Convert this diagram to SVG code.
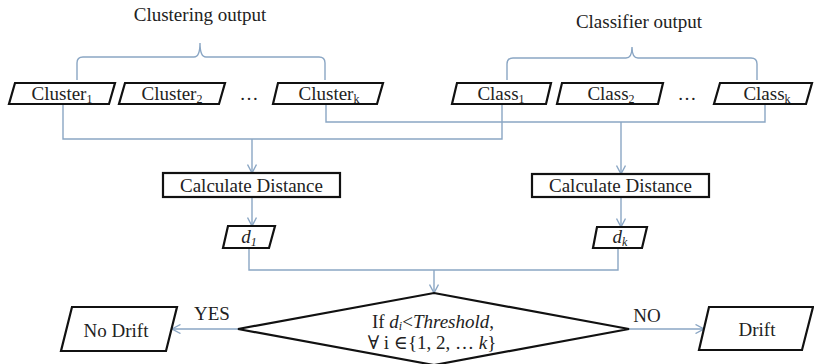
<svg xmlns="http://www.w3.org/2000/svg" width="814" height="364" viewBox="0 0 814 364">
<defs>
<style>
.box{fill:#fff;stroke:#111;stroke-width:2.2;stroke-linejoin:miter}
text{font-family:'Liberation Serif','DejaVu Serif',serif;font-size:19px;fill:#222;text-anchor:middle}
.sub{font-size:12px}
.it{font-style:italic}
.ln{fill:none;stroke:#8aa6c4;stroke-width:1.4}
</style>
<marker id="arr" viewBox="0 0 10 10" refX="9.5" refY="5" markerWidth="10" markerHeight="10" markerUnits="userSpaceOnUse" orient="auto">
<path d="M1,0.5 L9.5,5 L1,9.5" fill="none" stroke="#8aa6c4" stroke-width="1.4"/>
</marker>
</defs>
<rect width="814" height="364" fill="#fff"/>

<g id="connectors">
<path class="ln" d="M77,80 V63 Q77,57 83,57 H194 Q200,57 200,43 Q200,57 206,57 H319 Q325,57 325,63 V80"/>
<path class="ln" d="M507,80 V64 Q507,58 513,58 H626 Q632,58 632,47 Q632,58 638,58 H751 Q757,58 757,64 V80"/>
<path class="ln" d="M63,104 V139 H502 V104"/>
<path class="ln" d="M326,105 V122 H765 V105"/>
<path class="ln" d="M252,139 V173" marker-end="url(#arr)"/>
<path class="ln" d="M621,122 V174" marker-end="url(#arr)"/>
<path class="ln" d="M252,197 V226" marker-end="url(#arr)"/>
<path class="ln" d="M621,197 V227" marker-end="url(#arr)"/>
<path class="ln" d="M249,248 V270 H618 V248"/>
<path class="ln" d="M434,270 V293" marker-end="url(#arr)"/>
<path class="ln" d="M238,329 H172" marker-end="url(#arr)"/>
<path class="ln" d="M629,329 H704" marker-end="url(#arr)"/>
</g>

<g id="clustering-output"><text x="200" y="21">Clustering output</text></g>
<g id="classifier-output"><text x="639" y="28">Classifier output</text></g>

<g id="cluster1"><polygon class="box" points="15,83 115,83 109,104 9,104"/><text x="62" y="100">Cluster<tspan class="sub" dy="3">1</tspan></text></g>
<g id="cluster2"><polygon class="box" points="125,83 225,83 219,104 119,104"/><text x="172" y="100">Cluster<tspan class="sub" dy="3">2</tspan></text></g>
<g id="dots1"><text x="249" y="100">…</text></g>
<g id="clusterk"><polygon class="box" points="278,83 383,83 377,104 273,104"/><text x="329" y="100">Cluster<tspan class="sub" dy="3">k</tspan></text></g>

<g id="class1"><polygon class="box" points="457,83 551,83 546,104 452,104"/><text x="501" y="100">Class<tspan class="sub" dy="3">1</tspan></text></g>
<g id="class2"><polygon class="box" points="562,83 663,83 658,104 557,104"/><text x="611" y="100">Class<tspan class="sub" dy="3">2</tspan></text></g>
<g id="dots2"><text x="687" y="100">…</text></g>
<g id="classk"><polygon class="box" points="720,83 812,83 806,104 714,104"/><text x="767" y="100">Class<tspan class="sub" dy="3">k</tspan></text></g>

<g id="calc1"><rect class="box" x="163" y="173" width="177" height="24" stroke-width="2"/><text x="251.5" y="192">Calculate Distance</text></g>
<g id="calc2"><rect class="box" x="532" y="174" width="177" height="23" stroke-width="2"/><text x="620.5" y="192">Calculate Distance</text></g>

<g id="d1"><polygon class="box" points="228,226 275,226 269,248 223,248"/><text x="249" y="243"><tspan class="it">d</tspan><tspan class="sub it" dy="3">1</tspan></text></g>
<g id="dk"><polygon class="box" points="597,227 647,227 642,248 593,248"/><text x="620" y="243"><tspan class="it">d</tspan><tspan class="sub it" dy="3">k</tspan></text></g>

<g id="decision"><polygon class="box" points="434,293 629,329 434,365 238,329"/>
<text x="433" y="328" font-size="18">If <tspan class="it">d</tspan><tspan class="sub it" dy="2">i</tspan><tspan dy="-2">&lt;</tspan><tspan class="it">Threshold</tspan>,</text>
<text x="432" y="349" font-size="18">∀ i ∈{1, 2, … <tspan class="it">k</tspan>}</text></g>

<g id="yes-label"><text x="212" y="320">YES</text></g>
<g id="no-label"><text x="647" y="322">NO</text></g>

<g id="nodrift"><polygon class="box" points="72,307 177,307 166,351 61,351"/><text x="116" y="337">No Drift</text></g>
<g id="drift"><polygon class="box" points="709,307 813,307 802,350 699,350"/><text x="757" y="336">Drift</text></g>
</svg>
